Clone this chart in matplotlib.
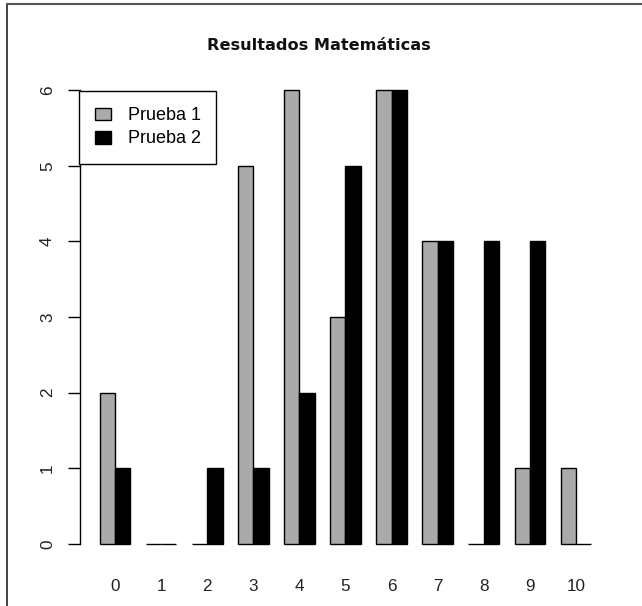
import numpy as np
import matplotlib.pyplot as plt
from matplotlib.patches import Patch
from matplotlib.lines import Line2D

notas = ["0", "1", "2", "3", "4", "5", "6", "7", "8", "9", "10"]
prueba1 = [2, 0, 0, 5, 6, 3, 6, 4, 0, 1, 1]
prueba2 = [1, 0, 1, 1, 2, 5, 6, 4, 4, 4, 0]
series = ["Prueba 1", "Prueba 2"]
colores = ["#AAAAAA", "black"]

W, H = 642, 606
fig = plt.figure(figsize=(W/100, H/100), dpi=100)
# plot region in pixels (R-like barplot layout)
x0, x1 = 80, 611
ytop, ybot = 72, 562
ax = fig.add_axes([x0/W, 1-ybot/H, (x1-x0)/W, (ybot-ytop)/H])

g = np.arange(len(notas))
izq = 1 + 3*g  # beside=TRUE, space=c(0,1)
ax.bar(izq, prueba1, width=1, align="edge", color=colores[0], edgecolor="black", linewidth=1)
ax.bar(izq+1, prueba2, width=1, align="edge", color=colores[1], edgecolor="black", linewidth=1)

ax.set_xlim(-0.28, 34.28)
ax.set_ylim(-0.24, 6.24)

for s in ["top", "right", "bottom"]:
    ax.spines[s].set_visible(False)
ax.spines["left"].set_bounds(0, 6)
ax.spines["left"].set_linewidth(1)

fs = 12.3
ax.set_yticks(range(0, 7))
ax.set_yticklabels([str(i) for i in range(0, 7)], rotation=90, va="center",
                   fontsize=fs, family="Liberation Sans", color="#222222")
ax.tick_params(axis="y", length=8.5, width=1, pad=9.5)

ax.set_xticks(izq+1)
ax.set_xticklabels(notas, fontsize=fs, family="Liberation Sans", color="#222222")
ax.tick_params(axis="x", length=0, pad=12)

fig.text(319/W, 1-45/H, "Resultados Matemáticas", ha="center", va="center",
         fontsize=11.6, fontweight="bold", family="DejaVu Sans", color="#111111")

handles = [Patch(facecolor=c, edgecolor="black", linewidth=1) for c in colores]
leg = fig.legend(handles, series, loc="upper left",
                 bbox_to_anchor=(79/W, 1-91/H, 137/W, 0), mode="expand",
                 borderaxespad=0, fancybox=False, framealpha=1, edgecolor="black",
                 prop={"family": "Liberation Sans", "size": 13},
                 handlelength=0.85, handleheight=0.72, handletextpad=0.95,
                 borderpad=0.9, labelspacing=0.34)
leg.get_frame().set_linewidth(1)

# outer frame of the image (top and left)
fig.add_artist(Line2D([7/W, 7/W], [0, 1-3.5/H], color="#333333", linewidth=1.3))
fig.add_artist(Line2D([7/W, 1], [1-3.5/H, 1-3.5/H], color="#555555", linewidth=1.5))

fig.savefig("out.png", dpi=100)
